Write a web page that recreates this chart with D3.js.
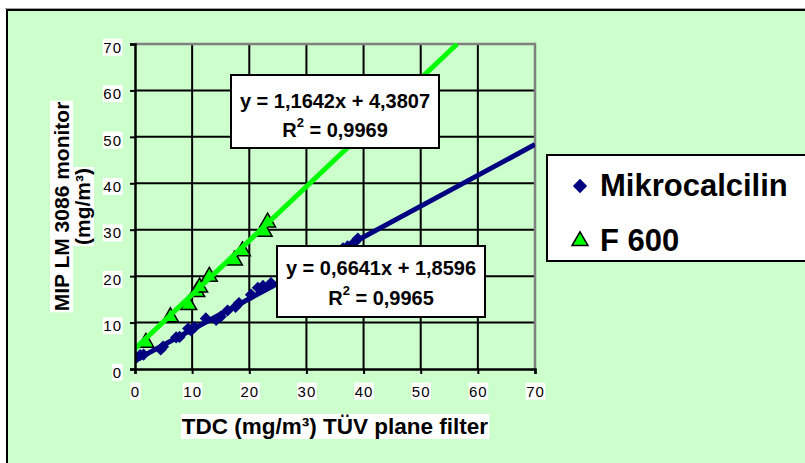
<!DOCTYPE html>
<html>
<head>
<meta charset="utf-8">
<script src="https://cdn.jsdelivr.net/npm/d3@7"></script>
<style>
  html, body { margin: 0; padding: 0; background: #ffffff; }
  svg { display: block; font-family: Arial, "Liberation Sans", sans-serif; }
</style>
</head>
<body>
<svg id="chart" width="805" height="463"></svg>
<script>
// Measurements: TDC reference (x) vs. MIP LM 3086 monitor (y), mg/m³
const seriesNames = ["Mikrocalcilin", "F 600"];

const mikroX = [0.3, 0.9, 1.5, 4.5, 4.9, 7.2, 7.8, 9.3, 9.8, 10.4, 12.4, 14.2, 15.0, 16.2, 17.6, 18.2, 20.3, 21.5, 22.4, 23.8, 36.4, 37.2, 38.5, 39.0];
const mikroY = [2.5, 3.0, 3.1, 4.2, 4.8, 6.8, 6.9, 8.7, 8.3, 9.0, 10.9, 10.6, 11.3, 12.6, 13.4, 14.2, 16.0, 17.5, 17.9, 18.5, 26.0, 26.4, 27.4, 28.1];

const f600X = [1.9, 6.2, 9.4, 10.8, 11.3, 13.0, 17.4, 18.8, 22.6, 23.2];
const f600Y = [5.9, 11.4, 14.0, 16.8, 17.8, 20.1, 23.6, 25.6, 29.8, 31.8];

// Linear trendlines: slope, intercept, R²
const mikroFit = [0.6641, 1.8596, 0.9965];
const f600Fit = [1.1642, 4.3807, 0.9969];

const xTicks = [0, 10, 20, 30, 40, 50, 60, 70];
const yTicks = [0, 10, 20, 30, 40, 50, 60, 70];

const xTitle = "TDC (mg/m³) TÜV plane filter";
const yTitle = ["MIP LM 3086 monitor", "(mg/m³)"];

const svg = d3.select("#chart");
const bg = "#ccffcc";

// chart area frame
svg.append("line").attr("x1", 5).attr("x2", 805).attr("y1", 8.5).attr("y2", 8.5)
  .attr("stroke", "#a0a0a0").attr("stroke-width", 1);
svg.append("rect").attr("x", 7).attr("y", 10).attr("width", 810).attr("height", 470)
  .attr("fill", bg).attr("stroke", "#000").attr("stroke-width", 2);

const x = d3.scaleLinear().domain([0, 70]).range([135, 535]);
const y = d3.scaleLinear().domain([0, 70]).range([369, 44]);

// gridlines
const grid = svg.append("g");
grid.selectAll("line.v").data(xTicks.slice(1, -1)).join("line")
  .attr("x1", d => x(d)).attr("x2", d => x(d)).attr("y1", y(70)).attr("y2", y(0))
  .attr("stroke", "#000").attr("stroke-width", 2);
grid.selectAll("line.h").data(yTicks.slice(1, -1)).join("line")
  .attr("x1", x(0)).attr("x2", x(70)).attr("y1", d => y(d)).attr("y2", d => y(d))
  .attr("stroke", "#000").attr("stroke-width", 2);

// plot border (top/right grey)
svg.append("path")
  .attr("d", `M${x(0)},${y(70)}H${x(70)}V${y(0)}`)
  .attr("fill", "none").attr("stroke", "#808080").attr("stroke-width", 2.5);

svg.append("clipPath").attr("id", "plotClip")
  .append("rect").attr("x", x(0)).attr("y", y(70) - 1).attr("width", x(70) - x(0)).attr("height", y(0) - y(70) + 1);

// markers
const mikro = mikroX.map((v, i) => ({ x: v, y: mikroY[i] }));
const f600 = f600X.map((v, i) => ({ x: v, y: f600Y[i] }));

const diamond = d3.symbol().type(d3.symbolDiamond2).size(95);
const triangle = d3.symbol().type(d3.symbolTriangle).size(110);

const marks = svg.append("g").attr("clip-path", "url(#plotClip)");
marks.selectAll("path.m").data(mikro).join("path")
  .attr("transform", d => `translate(${x(d.x)},${y(d.y)})`)
  .attr("d", diamond).attr("fill", "#000080");
marks.selectAll("path.f").data(f600).join("path")
  .attr("transform", d => `translate(${x(d.x)},${y(d.y) + 1})`)
  .attr("d", triangle).attr("fill", "#00ff00").attr("stroke", "#000").attr("stroke-width", 1.5);

// trendlines
function trend(fit, xs) {
  return xs.map(v => [x(v), y(fit[0] * v + fit[1])]);
}
const line = d3.line();
marks.append("path").attr("d", line(trend(mikroFit, [0, 70])))
  .attr("stroke", "#000080").attr("stroke-width", 5).attr("fill", "none");
marks.append("path").attr("d", line(trend(f600Fit, [0, (70 - f600Fit[1]) / f600Fit[0]])))
  .attr("stroke", "#00ff00").attr("stroke-width", 5).attr("fill", "none");

// axes
const xAxis = svg.append("g").attr("transform", `translate(0,${y(0)})`)
  .call(d3.axisBottom(x).tickValues(xTicks).tickSize(5).tickPadding(12).tickFormat(d3.format("d")));
const yAxis = svg.append("g").attr("transform", `translate(${x(0)},0)`)
  .call(d3.axisLeft(y).tickValues(yTicks).tickSize(5).tickPadding(8).tickFormat(d3.format("d")));
[xAxis, yAxis].forEach(a => {
  a.select(".domain").attr("stroke", "#000").attr("stroke-width", 2.5);
  a.selectAll(".tick line").attr("stroke", "#000").attr("stroke-width", 2);
  a.selectAll(".tick text").attr("font-size", 15).attr("fill", "#000")
    .attr("letter-spacing", 1)
    .attr("font-family", "Arial, 'Liberation Sans', sans-serif");
});
yAxis.selectAll(".tick text").attr("dy", "0.55em");

// white backdrops behind text, drawn from each text's own box
function backdrop(sel, pad) {
  sel.each(function () {
    const b = this.getBBox();
    const tr = this.getAttribute("transform");
    d3.select(this.parentNode).insert("rect", () => this)
      .attr("x", b.x - pad).attr("y", b.y).attr("width", b.width + 2 * pad).attr("height", b.height)
      .attr("fill", "#fff").attr("transform", tr);
  });
}
backdrop(xAxis.selectAll(".tick text"), 0.5);
backdrop(yAxis.selectAll(".tick text"), 0.5);

// axis titles
const xt = svg.append("g");
xt.append("text").attr("x", (x(0) + x(70)) / 2).attr("y", 434)
  .attr("text-anchor", "middle").attr("font-size", 22.5).attr("font-weight", "bold").text(xTitle);
backdrop(xt.selectAll("text"), 1);

const yt = svg.append("g");
yTitle.forEach((t, i) => {
  yt.append("text").attr("transform", `translate(${69 + i * 21},${(y(0) + y(70)) / 2}) rotate(-90)`)
    .attr("text-anchor", "middle").attr("font-size", 21).attr("font-weight", "bold").text(t);
});
backdrop(yt.selectAll("text"), 1);

// equation labels
const fmt = v => v.toFixed(4).replace(".", ",");
function eqBox(fit, bx, by, bw, bh, l1, l2) {
  const g = svg.append("g");
  g.append("rect").attr("x", bx).attr("y", by).attr("width", bw).attr("height", bh)
    .attr("fill", "#fff").attr("stroke", "#000").attr("stroke-width", 2);
  g.append("text").attr("x", bx + bw / 2).attr("y", by + l1).attr("text-anchor", "middle")
    .attr("font-size", 20).attr("font-weight", "bold")
    .text(`y = ${fmt(fit[0])}x + ${fmt(fit[1])}`);
  const t2 = g.append("text").attr("x", bx + bw / 2).attr("y", by + l2).attr("text-anchor", "middle")
    .attr("font-size", 20).attr("font-weight", "bold");
  t2.append("tspan").text("R");
  t2.append("tspan").attr("font-size", 13).attr("dy", -10).text("2");
  t2.append("tspan").attr("dy", 10).text(" = " + fmt(fit[2]));
}
eqBox(f600Fit, 231, 75, 208, 73, 33, 62);
eqBox(mikroFit, 277, 246, 208, 71, 29, 59);

// legend
const lg = svg.append("g");
lg.append("rect").attr("x", 547).attr("y", 155).attr("width", 262).attr("height", 106)
  .attr("fill", "#fff").attr("stroke", "#000").attr("stroke-width", 2);
lg.append("path").attr("transform", "translate(580,186)").attr("d", d3.symbol().type(d3.symbolDiamond2).size(130))
  .attr("fill", "#000080");
lg.append("path").attr("transform", "translate(580,241)").attr("d", d3.symbol().type(d3.symbolTriangle).size(110))
  .attr("fill", "#00ff00").attr("stroke", "#000").attr("stroke-width", 1.5);
lg.append("text").attr("x", 600).attr("y", 196).attr("font-size", 31).attr("font-weight", "bold").text(seriesNames[0]);
lg.append("text").attr("x", 600).attr("y", 251).attr("font-size", 31).attr("font-weight", "bold").text(seriesNames[1]);
</script>
</body>
</html>
